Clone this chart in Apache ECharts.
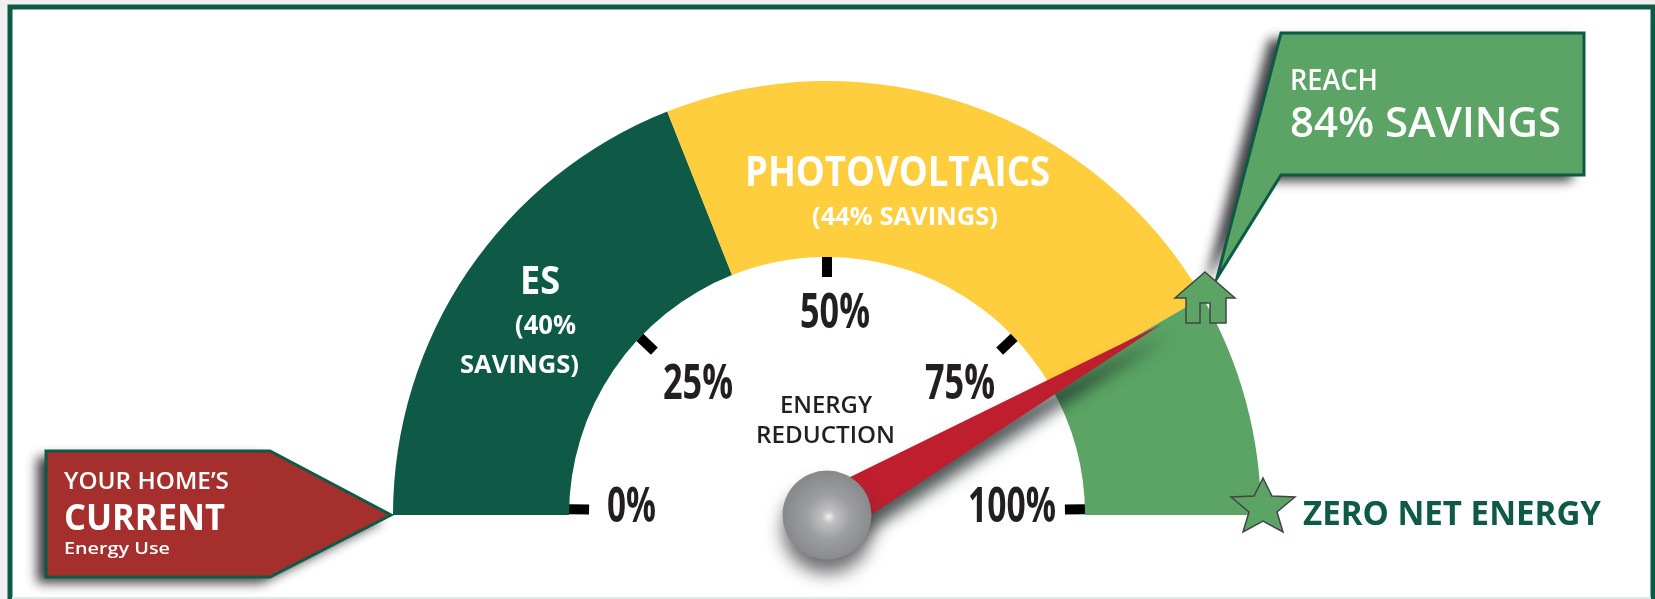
<!DOCTYPE html>
<html>
<head>
<meta charset="utf-8">
<style>html,body{margin:0;padding:0;background:#f0f0f0;overflow:hidden}#c{width:1655px;height:599px}</style>
<script src="https://cdn.jsdelivr.net/npm/echarts@6/dist/echarts.min.js"></script>
</head>
<body>
<div id="c"></div>
<script>
// ---- data ----
const segmentNames = ['ES', 'PHOTOVOLTAICS', 'ZERO NET ENERGY'];
const segmentShares = [38, 45.3, 16.7];
const needleValue = 84;
const tickLabels = ['0%', '25%', '50%', '75%', '100%'];
const callouts = ["YOUR HOME\u2019S", 'CURRENT', 'Energy Use', 'REACH', '84% SAVINGS'];
const segmentText = ['ES', '(40%', 'SAVINGS)', 'PHOTOVOLTAICS', '(44% SAVINGS)', 'ZERO NET ENERGY'];
const centerText = ['ENERGY', 'REDUCTION'];

// ---- styling ----
const DARK = '#0E5A46', YEL = '#FFCE3F', GRN = '#5BA465', RED = '#A52F2D', NEEDLE = '#BE1E2D', INK = '#231F20';
const cx = 827, cy = 515;
const FONT = '"Open Sans", sans-serif';
const ctx = document.createElement('canvas').getContext('2d');

// text placed by its left edge, width and cap-height box
function label(text, x0, x1, top, bottom, fill, weight) {
  const size = (bottom - top) / 0.714;
  const font = weight + ' ' + size + 'px ' + FONT;
  ctx.font = font;
  const w = ctx.measureText(text).width;
  return {
    type: 'text', z: 60, silent: true,
    x: x0, y: (top + bottom) / 2 + size * 0.09, scaleX: (x1 - x0) / w,
    style: { text, font, fill, align: 'left', verticalAlign: 'middle' }
  };
}
function poly(points, fill, stroke, lineWidth, z) {
  return {
    type: 'polygon', z: z, silent: true,
    shape: { points },
    style: { fill, stroke, lineWidth, lineJoin: 'miter' }
  };
}
function shadowPoly(points, dx, z) {
  return {
    type: 'polygon', z: z, silent: true,
    shape: { points },
    style: { fill: '#555', shadowColor: 'rgba(40,40,45,0.9)', shadowBlur: 12, shadowOffsetX: dx, shadowOffsetY: 6 }
  };
}
const leftCallout = [[46, 451], [270, 451], [391, 515], [270, 577], [46, 577]];
const rightCallout = [[1281, 33], [1584, 33], [1584, 175], [1281, 175], [1217, 278]];

const texts = [
  label(callouts[0], 64, 229, 472, 489, '#fff', 600),
  label(callouts[1], 64, 225, 503, 529, '#fff', 700),
  label(callouts[2], 64, 170, 542, 554, '#fff', 600),
  label(callouts[3], 1290, 1378, 68, 89, '#fff', 600),
  label(callouts[4], 1290, 1561, 106, 136, '#fff', 600),
  label(segmentText[0], 520, 560, 265, 293, '#fff', 700),
  label(segmentText[1], 515, 576, 315, 334, '#fff', 700),
  label(segmentText[2], 460, 579, 355, 373, '#fff', 700),
  label(segmentText[3], 745, 1050, 156, 185, '#fff', 700),
  label(segmentText[4], 812, 998, 207, 225, '#fff', 700),
  label(segmentText[5], 1303, 1601, 500, 524, DARK, 700),
  label(centerText[0], 780, 872, 396, 413, INK, 600),
  label(centerText[1], 756, 895, 426, 443, INK, 600),
  label(tickLabels[0], 607, 656, 486, 521, INK, 700),
  label(tickLabels[1], 663, 733, 363, 398, INK, 700),
  label(tickLabels[2], 800, 870, 292, 327, INK, 700),
  label(tickLabels[3], 925, 995, 363, 398, INK, 700),
  label(tickLabels[4], 968, 1056, 486, 521, INK, 700)
];

const shapes = [
  { type: 'rect', z: -10, silent: true, shape: { x: 10, y: 7, width: 1643, height: 620 },
    style: { fill: '#fff', stroke: DARK, lineWidth: 5 } },
  { type: 'rect', z: -9, silent: true, shape: { x: 12, y: 597, width: 1639, height: 2 }, style: { fill: '#DCEBE7' } },
  shadowPoly(leftCallout, -9, 49),
  poly(leftCallout, RED, DARK, 3, 50),
  shadowPoly(rightCallout, -12, 49),
  poly(rightCallout, GRN, DARK, 3, 50),
  poly([[1205, 272], [1235, 298], [1226, 298], [1226, 323], [1210, 323], [1210, 303], [1200, 303], [1200, 323], [1186, 323], [1186, 298], [1175, 298]],
    GRN, '#444', 1.5, 55),
  poly([[1263, 478], [1272, 496], [1295, 497], [1277, 512], [1283, 532], [1263, 521], [1243, 532], [1249, 512], [1231, 497], [1254, 496]],
    GRN, '#444', 1.5, 55)
];

const tickLine = { color: '#000', width: 10, cap: 'butt' };
const chart = echarts.init(document.getElementById('c'), null, { renderer: 'canvas' });
chart.setOption({
  animation: false,
  backgroundColor: '#f0f0f0',
  graphic: { elements: shapes.concat(texts) },
  series: [
    {
      type: 'pie', z: 2, silent: true,
      center: [cx, cy], radius: [258, 434],
      startAngle: 180, endAngle: 0, clockwise: true,
      label: { show: false }, labelLine: { show: false },
      data: segmentNames.map((name, i) => ({
        name, value: segmentShares[i], itemStyle: { color: [DARK, YEL, GRN][i] }
      }))
    },
    {
      // 25% and 75% ticks sit a little lower than a linear scale would put them
      type: 'gauge', z: 3, silent: true,
      center: [cx, cy], radius: 258,
      startAngle: 136.5, endAngle: 43.5, min: 25, max: 75, splitNumber: 2,
      axisLine: { show: false, lineStyle: { width: 0 } },
      axisTick: { show: false },
      splitLine: { show: true, length: 20, distance: 0, lineStyle: tickLine },
      axisLabel: { show: false },
      pointer: { show: false }, anchor: { show: false },
      title: { show: false }, detail: { show: false },
      data: []
    },
    {
      type: 'gauge', z: 4, silent: true,
      center: [cx, cy], radius: 258,
      startAngle: 178.7, endAngle: 1.3, min: 0, max: 100, splitNumber: 2,
      axisLine: { show: false, lineStyle: { width: 0 } },
      axisTick: { show: false },
      splitLine: { show: true, length: 20, distance: 0, lineStyle: tickLine },
      axisLabel: { show: false },
      pointer: { show: true, icon: 'triangle', length: 385, width: 48, itemStyle: {
        color: NEEDLE, shadowColor: 'rgba(20,30,30,0.75)', shadowBlur: 16, shadowOffsetX: 8, shadowOffsetY: 10 } },
      anchor: { show: true, showAbove: true, icon: 'circle', size: 89, itemStyle: {
        color: new echarts.graphic.RadialGradient(0.52, 0.52, 0.5, [
          { offset: 0, color: '#f0f0f1' }, { offset: 0.15, color: '#c0c0c2' },
          { offset: 0.5, color: '#9d9ea0' }, { offset: 1, color: '#88898b' }]),
        shadowColor: 'rgba(50,50,55,0.7)', shadowBlur: 18, shadowOffsetX: 0, shadowOffsetY: 14 } },
      title: { show: false }, detail: { show: false },
      data: [{ value: needleValue, name: 'ENERGY REDUCTION' }]
    }
  ]
});
</script>
</body>
</html>
